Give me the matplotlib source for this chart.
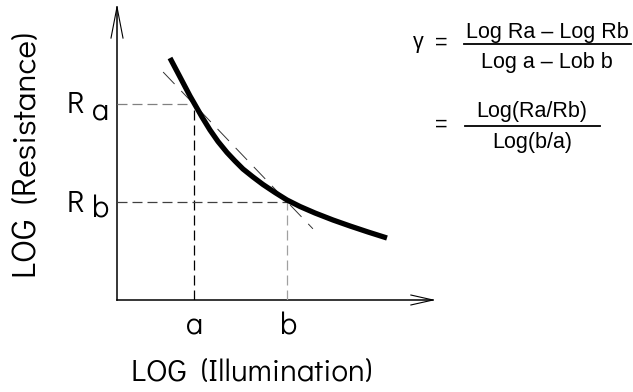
import matplotlib
matplotlib.use("Agg")
import matplotlib.pyplot as plt
from matplotlib.lines import Line2D

# ---------------------------------------------------------
# data (arbitrary log units, origin at the axes corner)
# ---------------------------------------------------------
curve_x = [1.677, 1.994, 2.310, 2.437, 2.690, 2.943, 3.196, 3.481, 3.734, 3.987,
           4.304, 4.620, 5.000, 5.380, 5.791, 6.266, 6.835, 7.373, 7.943, 8.544]
curve_y = [8.259, 7.611, 6.962, 6.724, 6.246, 5.802, 5.410, 5.034, 4.744, 4.471,
           4.198, 3.942, 3.669, 3.413, 3.191, 2.969, 2.730, 2.526, 2.321, 2.116]

a_val, b_val = 2.44, 5.38      # log illumination at the two points
Ra_val, Rb_val = 6.69, 3.34    # log resistance at the two points

secant_x = [1.46, 6.20]
secant_y = [7.78, 2.43]

x_label = "LOG  (Illumination)"
y_label = "LOG  (Resistance)"

W, H = 633, 392
fig = plt.figure(figsize=(W / 100, H / 100), dpi=100)

# axes placed so its origin sits where the drawn axes meet
ax = fig.add_axes([117 / W, 92 / H, 316 / W, 293 / H])
ax.set_xlim(0, 10)
ax.set_ylim(0, 10)
ax.axis("off")

# axis lines with open arrow heads
ax.plot([0, 0], [0, 10], color="black", lw=1.1, clip_on=False)
ax.plot([0, 10], [0, 0], color="black", lw=1.1, clip_on=False)
ax.plot([-0.19, 0, 0.19], [8.94, 10, 8.94], color="black", lw=0.8, clip_on=False)
ax.plot([9.30, 10, 9.30], [0.17, 0, -0.17], color="black", lw=0.8, clip_on=False)

# dashed guides
ax.plot([0, a_val], [Ra_val, Ra_val], color="#808080", lw=0.9, ls=(0, (8, 4)))
ax.plot([a_val, a_val], [0, Ra_val], color="black", lw=0.9, ls=(0, (8, 4)))
ax.plot([0, b_val], [Rb_val, Rb_val], color="#404040", lw=0.9, ls=(0, (8, 4)))
ax.plot([b_val, b_val], [0, Rb_val], color="#a0a0a0", lw=0.9, ls=(0, (8, 4)))

# secant through the two points
ax.plot(secant_x, secant_y, color="#333333", lw=0.7, ls=(0, (17, 10)))

# the response curve
ax.plot(curve_x, curve_y, color="black", lw=3.8, solid_capstyle="butt",
        solid_joinstyle="round")

lab_font = ["Didact Gothic", "DejaVu Sans"]
lab = dict(fontsize=22, family=lab_font, color="black")
ax.text(a_val, -1.19, "a", ha="center", va="baseline", **lab)
ax.text(b_val + 0.05, -1.19, "b", ha="center", va="baseline", **lab)
ax.text(-1.60, 6.38, "R", ha="left", va="baseline", **lab)
ax.text(-0.80, 6.11, "a", ha="left", va="baseline", **lab)
ax.text(-1.60, 3.00, "R", ha="left", va="baseline", **lab)
ax.text(-0.80, 2.80, "b", ha="left", va="baseline", **lab)

def px(x, y):
    return x / W, 1 - y / H

fig.text(*px(252, 373), x_label, ha="center", va="center", fontsize=22.5,
         family=lab_font)
fig.text(*px(27, 155), y_label, ha="center", va="center", fontsize=24,
         rotation=90, family=lab_font)

# gamma formula
ff = dict(fontsize=15.5, family=["Liberation Sans", "DejaVu Sans"], color="black")
fig.text(*px(418, 48), "\u03b3", ha="center", va="baseline", **ff)
fig.text(*px(441, 43.5), "=", ha="center", va="center", **ff)
fig.text(*px(547, 38), "Log Ra \u2013 Log Rb", ha="center", va="baseline", **ff)
fig.text(*px(547, 68), "Log a \u2013 Lob b", ha="center", va="baseline", **ff)
fig.text(*px(441, 125), "=", ha="center", va="center", **ff)
fig.text(*px(532, 117), "Log(Ra/Rb)", ha="center", va="baseline", **ff)
fig.text(*px(532, 148), "Log(b/a)", ha="center", va="baseline", **ff)

for x0, x1, y in [(464, 631, 44), (465, 600, 126)]:
    fig.add_artist(Line2D([x0 / W, x1 / W], [1 - y / H, 1 - y / H],
                          color="black", lw=1.3, transform=fig.transFigure))

fig.savefig("out.png", dpi=100)
